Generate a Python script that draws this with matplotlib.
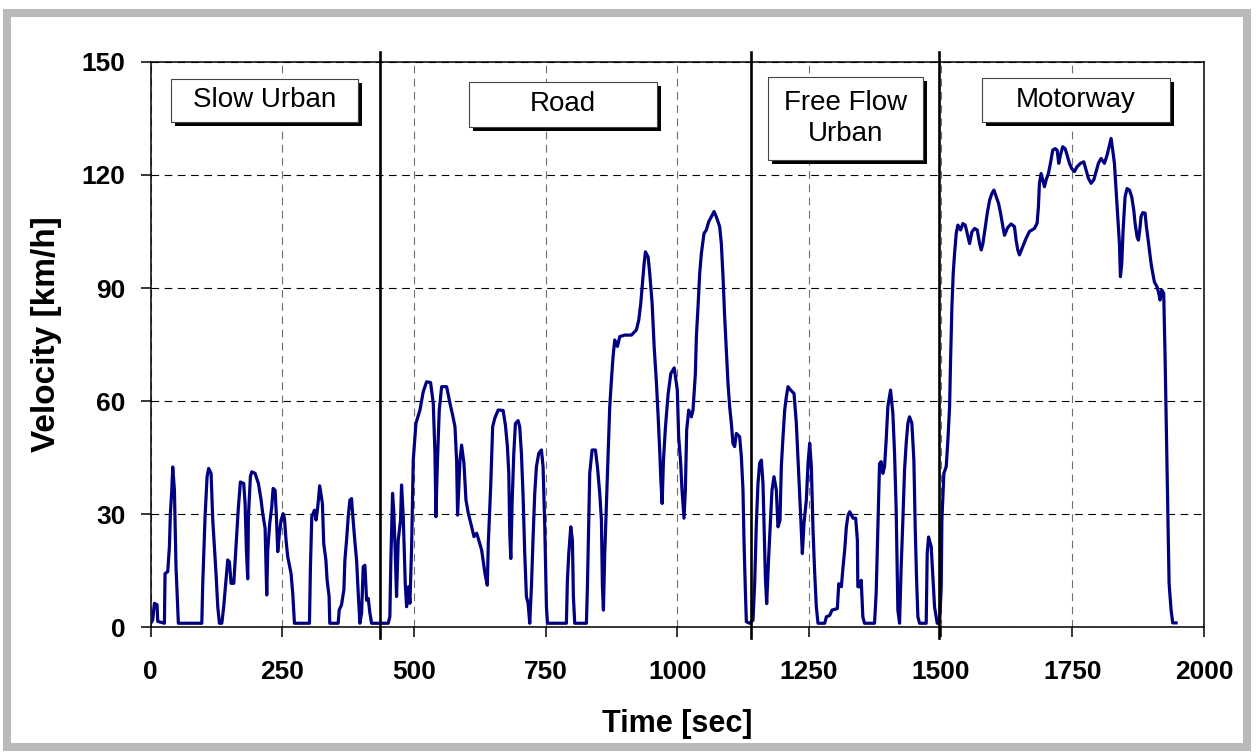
import matplotlib
matplotlib.use("Agg")
import matplotlib.pyplot as plt
from matplotlib.patches import Rectangle
from matplotlib.transforms import offset_copy

plt.rcParams['font.family'] = ['Liberation Sans', 'DejaVu Sans']
plt.rcParams['lines.scale_dashes'] = False

# velocity trace (sec, km/h)
time_s = [
    0, 3.8, 7, 12, 13.3, 26, 27.2, 32.3, 35.5, 37.3, 40, 41.8, 45, 48, 52.5, 97,
    98.8, 103.2, 107, 110, 114.6, 117.8, 124, 127.3, 130.4, 135, 138.6, 143, 146.2,
    149.4, 152.6, 157.7, 162, 166.5, 170.3, 176.6, 179.2, 181.7, 184.2, 185.5, 189.3,
    191.8, 198.1, 204.5, 209.6, 212.7, 217.2, 220.3, 222.2, 226, 229.8, 232.4, 236.2,
    238.7, 241.2, 244.4, 247.6, 251.4, 254, 257, 260.2, 266.5, 269.7, 272.9, 301.4,
    303.3, 305.8, 310.9, 314, 317.2, 320.8, 326, 328.5, 332.6, 334.9, 338.7, 340,
    355.9, 357.9, 362.3, 366.8, 368.7, 371.9, 375, 378.2, 381.4, 383.3, 387.7, 390.9,
    394, 397.2, 400.4, 403.5, 406.7, 409.9, 413, 416.2, 419.4, 451, 454.1, 456, 459.2,
    461.7, 464.3, 466.8, 470, 474.4, 476.3, 479.5, 483.3, 485.9, 489.7, 492.2, 495.4,
    498.5, 503.6, 511.2, 517.5, 523.8, 531.4, 536.5, 539.7, 541.6, 544.1, 547.9, 552.4,
    561.9, 568.2, 573.2, 577.7, 580.8, 582.7, 587.2, 590.3, 594.8, 598.6, 603, 609.4,
    613.8, 618.9, 623.9, 628.4, 634.7, 639.1, 641, 645.5, 649.3, 653.5, 659.8, 669.1,
    673.5, 677.3, 679.9, 681.8, 683.7, 686.2, 689.4, 692.5, 697.6, 700.7, 703.9, 707.1,
    710.2, 713.4, 716.6, 719.7, 722.9, 726.1, 729.2, 732.4, 736.8, 741.9, 745, 748.2,
    751.4, 753.3, 789.3, 791.2, 793.8, 797.6, 800.7, 802.6, 805.1, 827.3, 829.2, 831.7,
    833.6, 838.1, 844.4, 848.2, 852.6, 855.8, 857.7, 859.6, 862.1, 865.3, 868.4, 871.6,
    874.8, 877.9, 881.1, 886.2, 890.6, 900.1, 912.8, 922.3, 926.7, 930.5, 933.7, 936.9,
    939.4, 944.5, 947.6, 952.1, 955.9, 960.3, 963.5, 966.7, 968.6, 971.1, 973.6, 977.4,
    982.5, 987.6, 994, 999.9, 1002.5, 1006.3, 1008.8, 1012.6, 1015.2, 1017.7, 1021.5,
    1026.6, 1029.7, 1034.2, 1036.1, 1039.2, 1042.4, 1045.6, 1050.6, 1055, 1059.5,
    1064.5, 1069.6, 1074, 1080.3, 1083.5, 1086.7, 1089.8, 1093, 1096.2, 1099.3, 1102.5,
    1105.6, 1108.8, 1112, 1118.3, 1121.5, 1124.6, 1126.5, 1129.1, 1131, 1137.3, 1143.6,
    1146.8, 1150, 1153.1, 1156.3, 1159.5, 1162.6, 1164.5, 1167.1, 1169.6, 1173.4,
    1177.2, 1179.7, 1183.5, 1187.9, 1191.1, 1194.9, 1197.4, 1200.6, 1203.8, 1206.9,
    1210.1, 1215.1, 1221.5, 1225.9, 1230.4, 1234.2, 1237.3, 1240.5, 1244.9, 1248.1,
    1251.3, 1254.4, 1257.6, 1260.8, 1263.9, 1267.1, 1279.8, 1282.9, 1289.3, 1293.7,
    1303.8, 1306.4, 1311.4, 1314.6, 1317.7, 1320.9, 1324.1, 1327.2, 1333.6, 1338.6,
    1341.8, 1342.7, 1345.9, 1349.1, 1352.2, 1355.4, 1374.4, 1377.5, 1380.7, 1383.9,
    1387, 1390.2, 1393.4, 1396.5, 1399.7, 1404.8, 1409.2, 1412.4, 1415.5, 1418.7,
    1421.9, 1425, 1428.2, 1431.4, 1434.5, 1437.7, 1440.8, 1445.3, 1449.1, 1451.6,
    1454.1, 1456.7, 1459.9, 1472.5, 1474.4, 1477, 1482, 1485.2, 1488.4, 1493.4, 1497.9,
    1501, 1502.3, 1506.1, 1510.5, 1513.7, 1516.9, 1518.8, 1521.3, 1523.8, 1526.4,
    1529.5, 1532.7, 1537.8, 1542.2, 1546.6, 1550.4, 1554.9, 1559.3, 1564.4, 1569.4,
    1573.9, 1577, 1580.2, 1584.6, 1588.4, 1592.9, 1597.3, 1601.1, 1605.5, 1610, 1613.8,
    1618.2, 1621.3, 1627, 1633.7, 1640.1, 1643.2, 1646.4, 1649.6, 1655.9, 1662.2,
    1668.5, 1678, 1683.1, 1685.6, 1687.5, 1690.7, 1693.8, 1697, 1700.2, 1704.6, 1708.4,
    1712.8, 1717.3, 1721.1, 1724.2, 1727.4, 1731.8, 1736.3, 1740, 1744.5, 1748.9, 1754,
    1759, 1765.4, 1771.7, 1776.1, 1780.6, 1785.6, 1790.7, 1795.1, 1799.5, 1804.6,
    1810.9, 1816, 1820.4, 1823.6, 1826.7, 1829.9, 1833.1, 1836.2, 1839.4, 1841.3,
    1843.8, 1846.4, 1850.1, 1853.9, 1858.4, 1862.8, 1866.6, 1869.1, 1872.9, 1875.5,
    1878, 1880.5, 1883.7, 1888.1, 1890.6, 1893.2, 1896.3, 1899.5, 1902.7, 1905.8,
    1910.9, 1914.1, 1916.6, 1919.7, 1923.5, 1926.1, 1928.6, 1931.1, 1933.7, 1937.5,
    1940.6, 1947,
]
speed_kmh = [
    1, 1.9, 6.3, 5.9, 1.5, 1, 14.2, 14.7, 21.3, 30.1, 36.3, 42.5, 36.3, 16, 1, 1,
    11.6, 29.3, 39.9, 42.1, 40.8, 28.4, 14.2, 5.4, 1, 1, 5.4, 12.4, 17.8,
    17.3, 11.6, 11.6, 21.3, 31.9, 38.5, 38.1, 32.8, 20.4, 12.8, 29.3, 39.9,
    41.2, 40.8, 38.1, 33.7, 30.1, 26.2, 8.5, 20.4, 27.5, 31.9, 36.8, 36.3,
    29.3, 20, 24.9, 28.4, 30.1, 28.8, 23, 18.6, 14.2, 8.9, 1, 1,
    16, 29.3, 31, 28.4, 31.9, 37.5, 32.8, 22.2, 17.8, 12.5, 8.1, 1,
    1, 4.5, 5.9, 9.9, 17.8, 23.1, 29.3, 33.7, 34.1, 30.2, 22.6, 17.8,
    9, 1, 3.7, 16, 16.4, 7.1, 7.6, 3.7, 1, 1, 2.8, 17.8, 35.5,
    30.2, 19.6, 8.1, 23.1, 28.4, 37.7, 29.3, 11.6, 5.4, 10.7, 6.3, 21.3,
    44.3, 54.1, 57.6, 62.5, 65.1, 64.9, 59.4, 46.1, 29.3, 42.6, 57.6, 63.8,
    63.8, 59.4, 56.3, 53.2, 44.3, 29.7, 44.3, 48.3, 43.4, 33.7, 30.2, 26.6,
    24, 24.9, 22.6, 20.4, 14.2, 11.1, 22.2, 37.2, 53.2, 55.5, 57.6, 57.5,
    53.6, 47.9, 40.8, 24.8, 18.2, 32.8, 46.1, 54, 54.8, 53.1, 46.1, 34.6,
    19.5, 8, 6.3, 1, 10.7, 24, 35.5, 42.6, 46.1, 47, 42.6, 26.6,
    5.4, 1, 1, 12.4, 19.5, 26.6, 23.1, 8, 1, 1, 10.7, 28.4,
    40.8, 47, 47, 42.6, 35.5, 28.4, 10.7, 4.5, 19.5, 32.8, 46.1, 58.5,
    65.6, 71.8, 76.2, 74.5, 77.1, 77.5, 77.5, 78.9, 81.5, 85.9, 91.2, 96.5,
    99.6, 98.2, 93.8, 85.9, 74.5, 64.8, 55.9, 46.1, 39.1, 32.8, 44.3, 53.1,
    61.9, 67.3, 68.8, 62.9, 50.5, 43.5, 36.4, 28.9, 36.4, 52.3, 57.6,
    55.8, 57.6, 67.3, 77.1, 85, 93.9, 99.2, 104.5, 105.4, 107.6,
    108.9, 110.3, 108.9, 106.3, 101.8, 93, 82.4, 73.5, 64.6, 58.5, 54.1,
    48.7, 47.9, 51.4, 50.5, 45.2, 36.4, 23.1, 9.8, 1.4, 1, 1.8,
    11.6, 27.5, 38.1, 43.5, 44.3, 38.1, 27.5, 13.3, 6.2, 18.6,
    29.3, 36.4, 39.9, 36.4, 26.6, 28.4, 42.6, 50.5, 57.6, 61.1,
    63.8, 62.9, 62, 54.1, 40.8, 29.3, 19.5, 27.5, 33.7, 43.5,
    48.8, 42.6, 25.7, 14.2, 5.3, 1, 1, 2.7, 3.1, 4.5,
    4.9, 11.5, 10.7, 16, 20.4, 26.6, 29.7, 30.6, 28.9, 28.9,
    23.1, 10.7, 10.7, 12.4, 2.7, 1, 1, 9, 26.6, 43.4,
    43.9, 40.8, 42.6, 49.6, 58.5, 62.9, 56.7, 46.1, 31.1, 4.5,
    1, 16, 28.4, 41.7, 48.8, 54.1, 55.8, 54.1, 44.3, 26.6,
    13.3, 2.7, 1, 1, 19.5, 23.9, 21.3, 13.3, 5.3, 1, 1,
    10.7, 28.4, 40.8, 42.6, 49.6, 58.5, 70.9, 85, 93.9, 99.2,
    104.5, 106.7, 105.4, 107.1, 106.7, 104.5, 101.8, 104.9, 105.8, 105.4,
    101.8, 100.1, 101.8, 106.2, 109.8, 113.3, 115.1, 116, 114.2, 112.4, 109.8,
    106.2, 104, 106, 107, 106.3, 102.7, 100.1, 98.8, 101, 103.2,
    105, 105.8, 107.2, 111.6, 117.8, 120.4, 118.7, 116.9, 118.7, 120.4, 123.1,
    126.6, 127, 126.6, 123.1, 125.3, 127.5, 127, 125.3, 123.1, 121.7, 120.9,
    122.2, 123.1, 123.5, 121.3, 119.1, 117.8, 118.7, 120.9, 123.1, 124.4,
    123.1, 125.3, 127.9, 129.7, 126.6, 123.1, 116, 109, 101.8, 93,
    96.5, 105.4, 114.2, 116.4, 116, 114.2, 110.7, 107.2, 103.6, 102.7,
    105.4, 109, 110, 109.9, 106.3, 103.6, 100.1, 96.5, 93.9, 91.6,
    90.3, 88.6, 86.8, 89.5, 88.6, 71.8, 52.3, 32, 11.6, 4.5,
    1.1, 1.1,
]

section_ends = [436, 1140, 1496]
section_names = ["Slow Urban", "Road", "Free Flow\nUrban", "Motorway"]
x_ticks = [0, 250, 500, 750, 1000, 1250, 1500, 1750, 2000]
y_ticks = [0, 30, 60, 90, 120, 150]

fig = plt.figure(figsize=(12.56, 7.56), dpi=100)
fig.patch.set_facecolor('white')

# grey picture frame
fig.patches.append(Rectangle((7 / 1256, 9 / 756), 1240 / 1256, 734 / 756,
                             transform=fig.transFigure, facecolor='none',
                             edgecolor='#bababa', linewidth=5.8))

ax = fig.add_axes([0.12, 0.1706, 0.8386, 0.7474])
ax.plot(time_s, speed_kmh, color='#000080', linewidth=2.3, zorder=3)

for t in section_ends:
    ax.plot([t, t], [-3, 152.6], color='black', linewidth=1.9,
            clip_on=False, zorder=4)

ax.set_xlim(0, 2000)
ax.set_ylim(0, 150)
ax.set_xticks(x_ticks)
ax.set_yticks(y_ticks)
ax.set_axisbelow(True)
ax.yaxis.grid(True, color='black', linestyle=(0, (5.5, 4)), linewidth=0.8)
ax.xaxis.grid(True, color='#6e6e6e', linestyle=(0, (5.5, 4)), linewidth=0.8)

for s in ax.spines.values():
    s.set_linewidth(1.1)
ax.tick_params(axis='both', direction='out', length=7, width=1.1, labelsize=19)
ax.tick_params(axis='x', pad=17)
ax.tick_params(axis='y', pad=11)
for lab in ax.get_xticklabels() + ax.get_yticklabels():
    lab.set_fontweight('bold')

ax.set_xlabel("Time [sec]", fontsize=22, fontweight='bold')
ax.set_ylabel("Velocity [km/h]", fontsize=24, fontweight='bold')
ax.xaxis.set_label_coords(0.5, -0.145)
ax.yaxis.set_label_coords(-0.084, 0.518)

# section label boxes (axes fraction: x0, y0, x1, y1)
boxes = [(0.0193, 0.8938, 0.1968, 0.9699),
         (0.3022, 0.8850, 0.4807, 0.9646),
         (0.5861, 0.8265, 0.7332, 0.9735),
         (0.7892, 0.8938, 0.9677, 0.9717)]
shadow_tr = offset_copy(ax.transAxes, fig=fig, x=4, y=-4, units='dots')
for name, (x0, y0, x1, y1) in zip(section_names, boxes):
    ax.add_patch(Rectangle((x0, y0), x1 - x0, y1 - y0, transform=shadow_tr,
                           facecolor='black', edgecolor='none', zorder=5))
    ax.add_patch(Rectangle((x0, y0), x1 - x0, y1 - y0, transform=ax.transAxes,
                           facecolor='white', edgecolor='#444444',
                           linewidth=0.8, zorder=6))
    ax.text((x0 + x1) / 2, (y0 + y1) / 2, name, transform=ax.transAxes,
            ha='center', va='center', fontsize=20, linespacing=1.25, zorder=7)

fig.savefig("out.png", dpi=100)
